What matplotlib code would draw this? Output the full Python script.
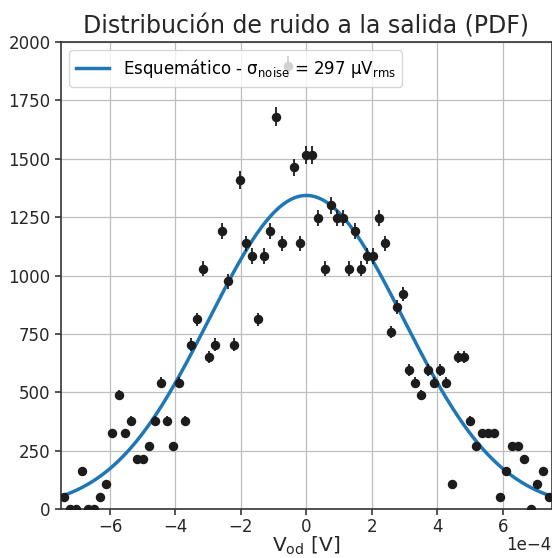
import numpy as np
import matplotlib
matplotlib.use("Agg")
import matplotlib.pyplot as plt

# histogram of the output noise (density), 81 bins between -0.75 mV and 0.75 mV
bin_edges = np.linspace(-7.5e-4, 7.5e-4, 82)
density = [
    54, 0, 0, 163, 0, 0, 54, 108, 325, 488, 325, 379, 217, 217, 271, 379, 542, 379, 271, 542, 379,
    705, 813, 1030, 650, 705, 1192, 976, 705, 1409, 1138, 1084, 813, 1084, 1192, 1680, 1138, 1897, 1463, 1138, 1518,
    1518, 1247, 1030, 1301, 1247, 1247, 1030, 1192, 1030, 1084, 1084, 1247, 1138, 759, 867, 921, 596, 542, 488, 596,
    542, 596, 542, 108, 650, 650, 379, 271, 325, 325, 325, 54, 163, 271, 271, 217, 0, 108, 163, 54,
]
sigma_noise = 297e-6  # V rms, from the schematic simulation

bin_centers = 0.5 * (bin_edges[:-1] + bin_edges[1:])
density = np.array(density, dtype=float)
errors = np.sqrt(density)

x_fit = np.linspace(bin_edges[0], bin_edges[-1], 500)
pdf_fit = np.exp(-0.5 * (x_fit / sigma_noise) ** 2) / (sigma_noise * np.sqrt(2 * np.pi))

text_color = "#262626"
edge_color = "#333333"

fig = plt.figure(figsize=(5.52, 5.58), dpi=100)
ax = fig.add_axes([0.1105, 0.0873, 0.889, 0.8374])

ax.plot(x_fit, pdf_fit, color="#1f77b4", lw=2.5, zorder=2,
        label=r"Esquemático - $\mathregular{\sigma_{noise}}$ = 297 $\mathregular{\mu V_{rms}}$")
ax.errorbar(bin_centers, density, yerr=errors, fmt="o", color="#1c1c1c", ms=5.8,
            elinewidth=1.3, capsize=0, zorder=3)

ax.set_xlim(bin_edges[0], bin_edges[-1])
ax.set_ylim(0, 2000)
ax.set_yticks(np.arange(0, 2001, 250))
ax.set_xticks(np.arange(-6e-4, 6.1e-4, 2e-4))
ax.ticklabel_format(axis="x", style="sci", scilimits=(0, 0))
# offset label drawn by hand so it stays inside the figure
ax.xaxis.get_offset_text().set_visible(False)
ax.text(1.0, -0.077, "1e\u22124", transform=ax.transAxes, ha="right", va="center",
        fontsize=12, color=text_color)

ax.grid(True, color="#bdbdbd", lw=0.9)
ax.set_axisbelow(True)
for sp in ax.spines.values():
    sp.set_color(edge_color)
    sp.set_linewidth(1.2)
ax.tick_params(labelsize=12, colors=text_color, length=4, width=1.1)
ax.tick_params(axis="x", pad=2.5)

ax.set_title("Distribución de ruido a la salida (PDF)", fontsize=17, color=text_color)
ax.set_xlabel(r"V$_{\mathregular{od}}$ [V]", fontsize=14.5, color=text_color, labelpad=-1.2)
ax.legend(loc="upper left", fontsize=12, framealpha=0.8, edgecolor="#cccccc")

fig.savefig("out.png", dpi=100)
